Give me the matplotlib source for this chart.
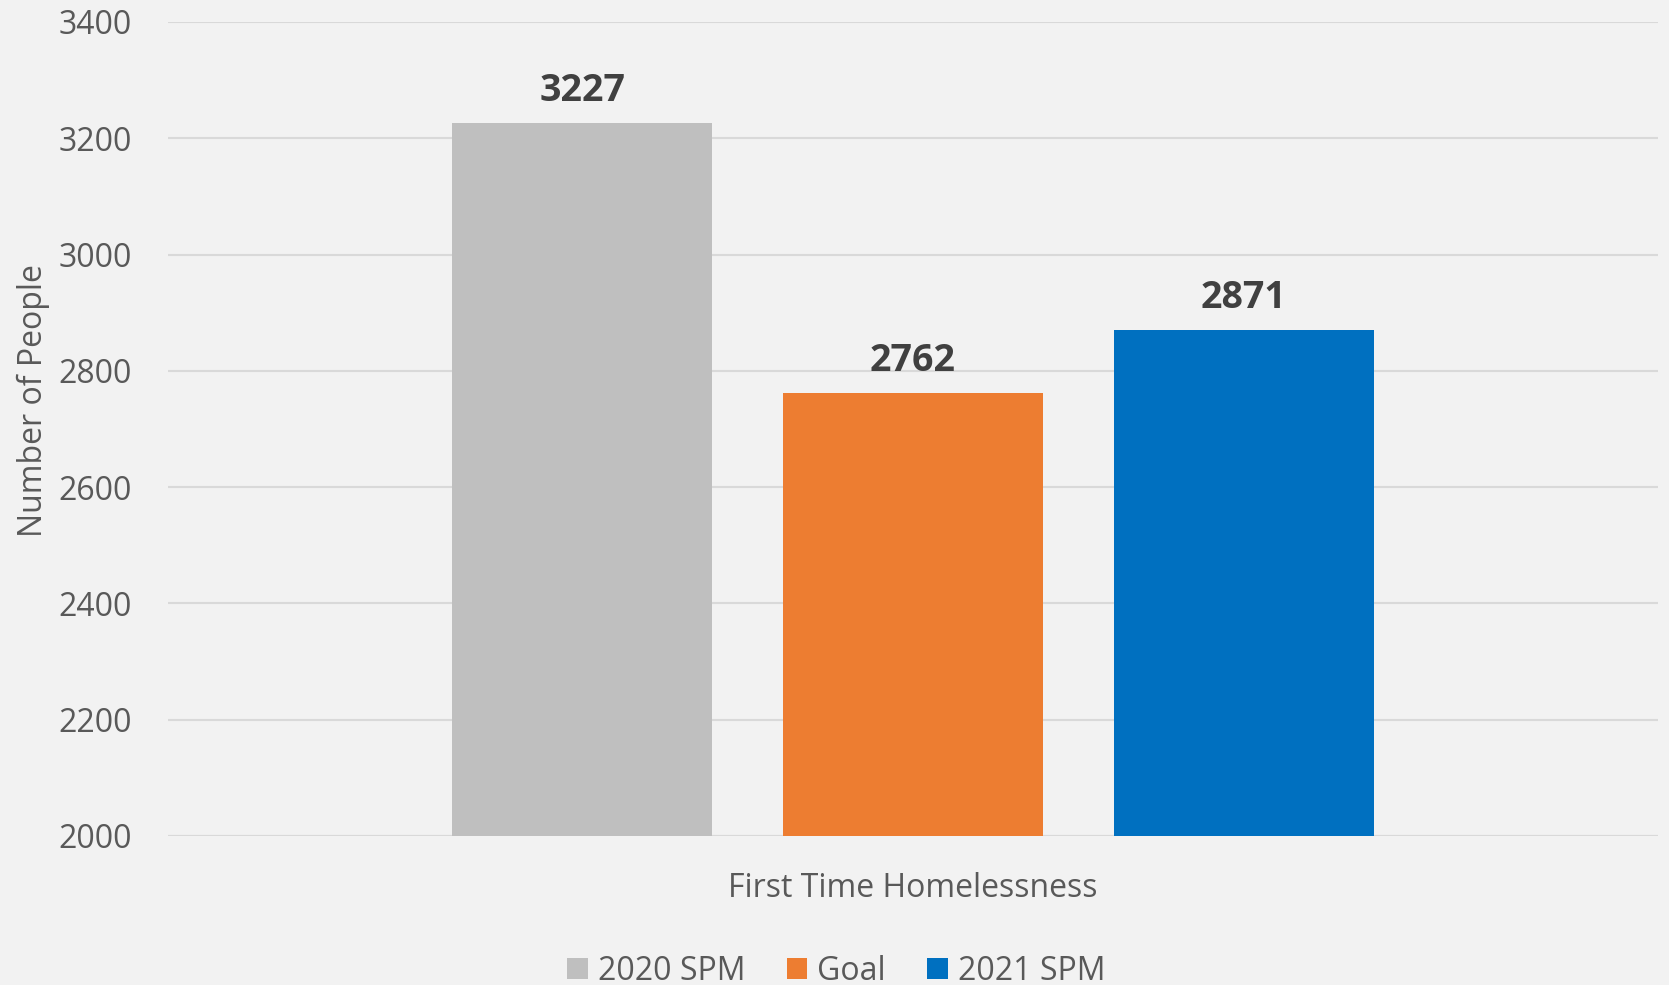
import matplotlib; matplotlib.use("Agg")
import matplotlib.pyplot as plt
from matplotlib.patches import Patch

plt.rcParams["font.family"] = ["Open Sans", "DejaVu Sans"]

BG = "#F2F2F2"; GRID = "#D9D9D9"; TXT = "#595959"; LBL = "#404040"

category = "First Time Homelessness"
series = ["2020 SPM", "Goal", "2021 SPM"]
values = [3227, 2762, 2871]
colors = ["#BFBFBF", "#ED7D31", "#0070C0"]

fig = plt.figure(figsize=(16.69, 9.85), dpi=100, facecolor=BG)
ax = fig.add_axes([0.1007, 0.1513, 0.8927, 0.8264], facecolor=BG)

width = 0.1745
offsets = [-0.222, 0.0, 0.222]
for off, val, col in zip(offsets, values, colors):
    ax.bar(off, val - 2000, bottom=2000, width=width, color=col, zorder=3)
    ax.annotate(str(val), (off, val), xytext=(0, 9), textcoords="offset points",
                ha="center", va="bottom", fontsize=27, fontweight="bold", color=LBL)

ax.set_xlim(-0.5, 0.5)
ax.set_ylim(2000, 3400)
ax.set_yticks(range(2000, 3401, 200))
ax.set_xticks([0])
ax.set_xticklabels([category])
ax.tick_params(axis="both", length=0, labelsize=23, labelcolor=TXT)
ax.tick_params(axis="y", pad=26)
ax.tick_params(axis="x", pad=26)
ax.grid(axis="y", color=GRID, lw=1.5, zorder=0)
for s in ax.spines.values():
    s.set_visible(False)
ax.axhline(2000, color=GRID, lw=1.5, zorder=2)

ax.set_ylabel("Number of People", fontsize=23, color=TXT)
ax.yaxis.set_label_coords(-0.079, 0.535)

handles = [Patch(facecolor=c, edgecolor="none") for c in colors]
fig.legend(handles, series, loc="center", bbox_to_anchor=(0.501, 0.014),
           ncol=3, frameon=False, fontsize=23, labelcolor=TXT,
           handlelength=0.65, handleheight=0.65, handletextpad=0.3,
           columnspacing=1.3)

fig.savefig("out.png", dpi=100, facecolor=BG)
